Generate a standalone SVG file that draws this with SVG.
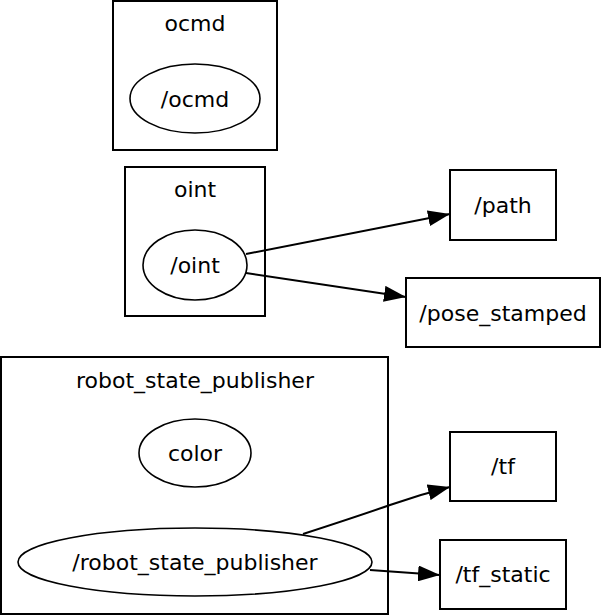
<svg xmlns="http://www.w3.org/2000/svg" width="601" height="616" viewBox="0 0 601 616">
<style>
text{font-family:"DejaVu Sans",sans-serif;font-size:22px;text-anchor:middle;fill:#000}
.c{fill:none;stroke:#000;stroke-width:2}
.n{fill:none;stroke:#000;stroke-width:1.6}
.t{fill:none;stroke:#000;stroke-width:2}
.e{fill:none;stroke:#000;stroke-width:2}
</style>
<defs>
<marker id="ah" viewBox="0 0 22 16" refX="22" refY="8" markerWidth="22" markerHeight="16" markerUnits="userSpaceOnUse" orient="auto">
<path d="M0,0 L22,8 L0,16 z" fill="#000"/>
</marker>
</defs>
<rect width="601" height="616" fill="#fff"/>
<g id="cluster_ocmd">
<rect class="c" x="113" y="1" width="164" height="149"/>
<text x="195" y="31">ocmd</text>
</g>
<g id="node_ocmd">
<ellipse class="n" cx="195" cy="98.5" rx="65" ry="34.5"/>
<text x="195" y="106.5">/ocmd</text>
</g>
<g id="cluster_oint">
<rect class="c" x="125" y="167" width="140" height="149"/>
<text x="195" y="197">oint</text>
</g>
<g id="node_oint">
<ellipse class="n" cx="195" cy="265" rx="52" ry="35"/>
<text x="195" y="273">/oint</text>
</g>
<g id="cluster_rsp">
<rect class="c" x="1" y="357" width="387" height="257"/>
<text x="195" y="388">robot_state_publisher</text>
</g>
<g id="node_color">
<ellipse class="n" cx="195" cy="453" rx="56" ry="34"/>
<text x="195" y="461">color</text>
</g>
<g id="node_rsp">
<ellipse class="n" cx="195" cy="562" rx="177" ry="34"/>
<text x="195" y="570">/robot_state_publisher</text>
</g>
<g id="topic_path">
<rect class="t" x="450" y="170" width="106" height="70"/>
<text x="503" y="213">/path</text>
</g>
<g id="topic_pose_stamped">
<rect class="t" x="406" y="278" width="194" height="69"/>
<text x="503" y="321">/pose_stamped</text>
</g>
<g id="topic_tf">
<rect class="t" x="450" y="432" width="106" height="69"/>
<text x="503" y="474">/tf</text>
</g>
<g id="topic_tf_static">
<rect class="t" x="440" y="540" width="126" height="69"/>
<text x="503" y="582">/tf_static</text>
</g>
<g id="edges">
<path class="e" d="M246,254 L450,214" marker-end="url(#ah)"/>
<path class="e" d="M246,273 L406,297" marker-end="url(#ah)"/>
<path class="e" d="M303,534 C340,522 370,512 390,505 C410,498 430,492 450,487" marker-end="url(#ah)"/>
<path class="e" d="M370,570 L440,575" marker-end="url(#ah)"/>
</g>
</svg>
